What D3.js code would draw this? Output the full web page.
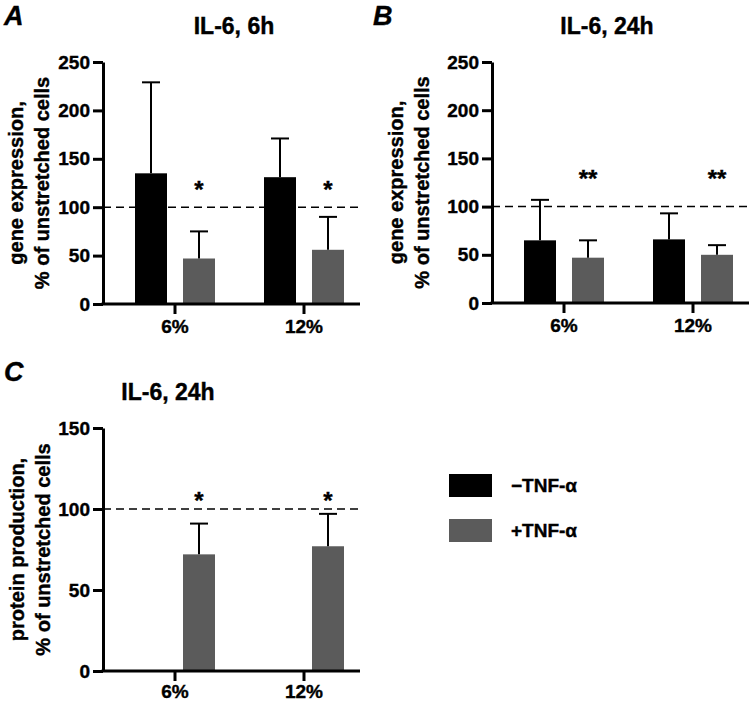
<!DOCTYPE html>
<html>
<head>
<meta charset="utf-8">
<script src="https://cdn.jsdelivr.net/npm/d3@7"></script>
<style>
  body { margin: 0; background: #fff; }
  svg text {
    font-family: "Liberation Sans", Arial, sans-serif;
    font-weight: bold;
    fill: #000;
    stroke: #000;
    stroke-width: 0.4px;
  }
</style>
</head>
<body>
<svg id="chart" width="749" height="701"></svg>
<script>
// ---- data ----
const categories = ['6%', '12%'];
const seriesNames = ['−TNF-α', '+TNF-α'];

// IL-6 gene expression, 6h (% of unstretched cells), mean and upper SD
const gene6hMinus = [135, 131];
const gene6hMinusSd = [94, 40];
const gene6hPlus = [47, 56];
const gene6hPlusSd = [28, 34];

// IL-6 gene expression, 24h
const gene24hMinus = [65, 66];
const gene24hMinusSd = [42, 27];
const gene24hPlus = [47, 50];
const gene24hPlusSd = [18, 10];

// IL-6 protein production, 24h (only +TNF-a measured)
const protein24hPlus = [72, 77];
const protein24hPlusSd = [19, 20];

const marks6h = ['*', '*'];
const marks24h = ['**', '**'];
const marksProtein = ['*', '*'];

const ticksGene = [0, 50, 100, 150, 200, 250];
const ticksProtein = [0, 50, 100, 150];

const colors = ['#000000', '#5b5b5b'];

// ---- layout ----
const svg = d3.select('#chart');

const panels = [
  {
    letter: 'A', letterX: 4, letterY: 25,
    title: 'IL-6, 6h', titleX: 234, titleY: 34,
    yLabel: ['gene expression,', '% of unstretched cells'],
    labelOffset: -80,
    left: 103, right: 360, top: 62, bottom: 304,
    ticks: ticksGene, starLevel: 123, xPad: 6,
    series: [
      { mean: gene6hMinus, sd: gene6hMinusSd, idx: 0 },
      { mean: gene6hPlus, sd: gene6hPlusSd, idx: 1, marks: marks6h },
    ],
  },
  {
    letter: 'B', letterX: 373, letterY: 25,
    title: 'IL-6, 24h', titleX: 607, titleY: 34,
    yLabel: ['gene expression,', '% of unstretched cells'],
    labelOffset: -89,
    left: 492, right: 749, top: 62, bottom: 303,
    ticks: ticksGene, starLevel: 134, xPad: 6,
    series: [
      { mean: gene24hMinus, sd: gene24hMinusSd, idx: 0 },
      { mean: gene24hPlus, sd: gene24hPlusSd, idx: 1, marks: marks24h },
    ],
  },
  {
    letter: 'C', letterX: 4, letterY: 381,
    title: 'IL-6, 24h', titleX: 168, titleY: 400,
    yLabel: ['protein production,', '% of unstretched cells'],
    labelOffset: -79,
    left: 103, right: 360, top: 428, bottom: 671,
    ticks: ticksProtein, starLevel: 108, xPad: 4,
    series: [
      { mean: protein24hPlus, sd: protein24hPlusSd, idx: 1, marks: marksProtein },
    ],
  },
];

panels.forEach(drawPanel);
drawLegend();

function drawPanel(p) {
  const ymax = p.ticks[p.ticks.length - 1];
  const y = d3.scaleLinear().domain([0, ymax]).range([p.bottom, p.top]);
  const x0 = d3.scaleBand().domain(categories).range([p.left + 7.5, p.left + 265.5]);
  const half = x0.bandwidth() / 2;
  const x1 = d3.scaleBand()
    .domain(seriesNames)
    .range([half - 40, half + 40])
    .paddingInner(1 / 3);

  const g = svg.append('g');

  // panel letter and title
  g.append('text')
    .attr('x', p.letterX)
    .attr('y', p.letterY)
    .style('font-size', '27px')
    .style('font-style', 'italic')
    .text(p.letter);

  g.append('text')
    .attr('x', p.titleX)
    .attr('y', p.titleY)
    .attr('text-anchor', 'middle')
    .style('font-size', '23px')
    .text(p.title);

  // y label, two lines
  const cy = (p.top + p.bottom) / 2;
  p.yLabel.forEach((line, i) => {
    g.append('text')
      .attr('transform', `translate(${p.left + p.labelOffset + i * 26}, ${cy}) rotate(-90)`)
      .attr('text-anchor', 'middle')
      .style('font-size', '20px')
      .text(line);
  });

  // bars
  p.series.forEach((s) => {
    const name = seriesNames[s.idx];
    const bx = (i) => x0(categories[i]) + x1(name);

    g.selectAll(null)
      .data(s.mean)
      .enter()
      .append('rect')
      .attr('x', (d, i) => bx(i))
      .attr('y', (d) => y(d))
      .attr('width', x1.bandwidth())
      .attr('height', (d) => y(0) - y(d))
      .style('fill', colors[s.idx]);

    // upper error bars
    const eb = g.selectAll(null)
      .data(s.mean)
      .enter()
      .append('g');

    eb.append('line')
      .attr('x1', (d, i) => bx(i) + x1.bandwidth() / 2)
      .attr('x2', (d, i) => bx(i) + x1.bandwidth() / 2)
      .attr('y1', (d) => y(d))
      .attr('y2', (d, i) => y(d + s.sd[i]))
      .style('stroke', '#000')
      .style('stroke-width', 2);

    eb.append('line')
      .attr('x1', (d, i) => bx(i) + x1.bandwidth() / 2 - 9)
      .attr('x2', (d, i) => bx(i) + x1.bandwidth() / 2 + 9)
      .attr('y1', (d, i) => y(d + s.sd[i]))
      .attr('y2', (d, i) => y(d + s.sd[i]))
      .style('stroke', '#000')
      .style('stroke-width', 2);

    if (s.marks) {
      g.selectAll(null)
        .data(s.marks)
        .enter()
        .append('text')
        .attr('x', (d, i) => bx(i) + x1.bandwidth() / 2)
        .attr('y', y(p.starLevel) + 13)
        .attr('text-anchor', 'middle')
        .style('font-size', '24px')
        .text((d) => d);
    }
  });

  // reference line at 100%
  g.append('line')
    .attr('x1', p.left)
    .attr('x2', p.right)
    .attr('y1', y(100))
    .attr('y2', y(100))
    .style('stroke', '#000')
    .style('stroke-width', 1.5)
    .style('stroke-dasharray', '8,5');

  // axes
  const yAxis = g.append('g')
    .attr('transform', `translate(${p.left},0)`)
    .call(d3.axisLeft(y).tickValues(p.ticks).tickSize(10).tickSizeOuter(0).tickPadding(3));

  const xAxis = g.append('g')
    .attr('transform', `translate(0,${p.bottom})`)
    .call(d3.axisBottom(x0).tickSize(10).tickSizeOuter(0).tickPadding(p.xPad));

  xAxis.select('.domain').remove();
  g.append('line')
    .attr('x1', p.left - 1.5)
    .attr('x2', p.right)
    .attr('y1', p.bottom)
    .attr('y2', p.bottom)
    .style('stroke', '#000')
    .style('stroke-width', 3);

  [yAxis, xAxis].forEach((ax) => {
    ax.selectAll('.domain').style('stroke-width', 3);
    ax.selectAll('.tick line').style('stroke-width', 3);
    ax.selectAll('.tick text')
      .style('font-size', '19px')
      .style('font-family', '"Liberation Sans", Arial, sans-serif')
      .style('font-weight', 'bold');
  });
}

function drawLegend() {
  const ly = d3.scaleBand().domain(seriesNames).range([474, 542]).paddingInner(0.489);
  const leg = svg.append('g');

  seriesNames.forEach((name, i) => {
    leg.append('rect')
      .attr('x', 449)
      .attr('y', ly(name))
      .attr('width', 43)
      .attr('height', ly.bandwidth())
      .style('fill', colors[i]);

    leg.append('text')
      .attr('x', 511)
      .attr('y', ly(name) + 18)
      .style('font-size', '19px')
      .text(name);
  });
}
</script>
</body>
</html>
